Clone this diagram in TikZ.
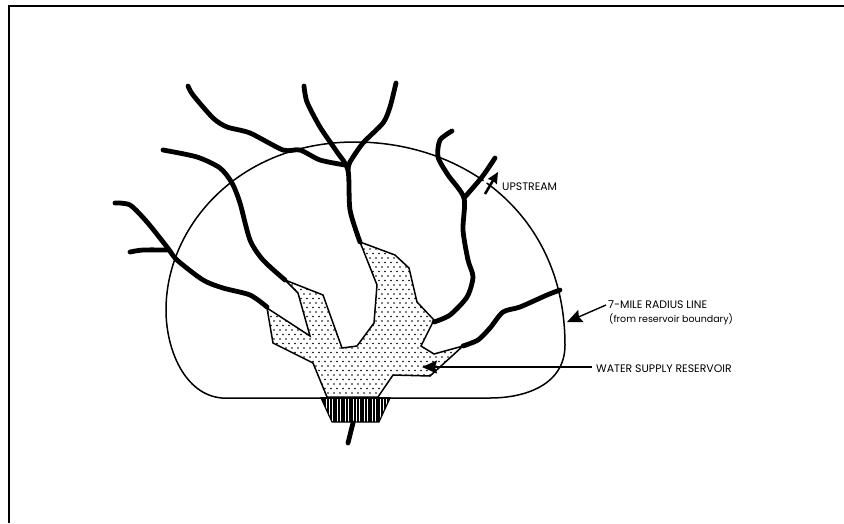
\documentclass[tikz,border=0pt]{standalone}
\usepackage{fontspec}
\setmainfont{Poppins}
\usetikzlibrary{arrows.meta}
\tikzset{
  stream/.style={line width=4.8pt,line cap=round,line join=round},
  radiusline/.style={line width=1.5pt},
  lakeline/.style={line width=1.5pt,line join=miter},
  callout/.style={line width=1.4pt,-{Stealth[length=15pt,width=13pt,inset=2pt]}},
  lbl/.style={font=\fontsize{10.9}{12}\selectfont,anchor=west,inner sep=2pt},
  sublbl/.style={font=\fontsize{9.5}{11}\selectfont,anchor=west,inner sep=2pt}
}
\newcommand{\lakeoutline}{(285,280) -- (323,295) -- (342,348) -- (357,346) -- (374,323) -- (377,285) -- (360,242) -- (395,255) -- (409,268) -- (417,302) -- (434,320) -- (421,346) -- (434,354) -- (463,346) -- (430,376) -- (393,375) -- (378,397) -- (327,397) -- (313,363) -- (273,343) -- (267,308) -- (310,336) -- (298,293) -- cycle}
\newcommand{\damoutline}{(321,398) -- (390,398) -- (379,422) -- (332,422) -- cycle}
\begin{document}
\begin{tikzpicture}[x=1pt,y=-1pt]
  \useasboundingbox (0,0) rectangle (844,523);
  \fill[white] (0,0) rectangle (844,523);
  % page frame
  \draw[line width=2.2pt] (9,523) -- (9,6) -- (844,6);
  % radius line
  \draw[radiusline] (222,398) .. controls (185,395) and (166,350) .. (166,310) .. controls (166,225) and (240,142) .. (355,142) .. controls (465,142) and (565,215) .. (565,345) .. controls (565,385) and (525,398) .. (490,398) -- cycle;
  % reservoir
  \begin{scope}
    \clip \lakeoutline;
    \fill[white] (260,240) rectangle (470,400);
    \foreach \row in {0,...,36}
      \foreach \col in {0,...,35}
        \fill ({262+6*\col+3*mod(\row,2)},{240+4.5*\row}) circle (.8pt);
  \end{scope}
  \draw[lakeline] \lakeoutline;
  % dam
  \begin{scope}
    \clip \damoutline;
    \fill[white] (320,398) rectangle (391,423);
    \foreach \x in {320,322.7,...,392}
      \draw[line width=2pt] (\x,398) -- (\x,423);
  \end{scope}
  \draw[line width=1.2pt] \damoutline;
  \draw[line width=2.6pt] (321,398) -- (390,398);
  % streams
  \draw[stream] plot[smooth,tension=.45] coordinates {(115,203) (130,205) (147,222) (167,247) (177,260) (203,280) (223,288) (250,295) (267,307)};
  \draw[stream] plot[smooth,tension=.45] coordinates {(130,252) (143,250) (168,250)};
  \draw[stream] plot[smooth,tension=.45] coordinates {(163,150) (197,157) (220,168) (232,183) (240,203) (250,240) (263,260) (285,280)};
  \draw[stream] plot[smooth,tension=.45] coordinates {(188,86) (193,95) (213,118) (227,127) (250,133) (283,150) (300,150) (320,160) (345,165)};
  \draw[stream] plot[smooth,tension=.45] coordinates {(304,86) (307,102) (320,127) (337,152) (348,170) (350,210) (360,242)};
  \draw[stream] plot[smooth,tension=.45] coordinates {(396,83) (390,107) (383,123) (363,143) (350,162) (348,170)};
  \draw[stream] plot[smooth,tension=.45] coordinates {(452,131) (440,140) (438,157) (448,175) (464,198) (463,230) (468,260) (473,277) (467,297) (450,315) (434,322)};
  \draw[stream] plot[smooth,tension=.45] coordinates {(495,158) (482,177) (464,198)};
  \draw[stream] plot[smooth,tension=.45] coordinates {(560,290) (547,295) (520,307) (503,312) (490,328) (478,340) (463,346)};
  \draw[stream] (353,423) -- (348,443);
  % labels
  \node[lbl] (lblupstream) at (500,187) {UPSTREAM};
  \node[lbl] (lblradius) at (606,305) {7-MILE RADIUS LINE};
  \node[sublbl] (lblfrom) at (607,319) {(from reservoir boundary)};
  \node[lbl] (lblwater) at (594,369) {WATER SUPPLY RESERVOIR};
  % callouts
  \coordinate (upfoot) at (485,194);
  \coordinate (uptip) at (498,172);
  \coordinate (radiustip) at (567,322);
  \coordinate (lakefoot) at (592,367);
  \coordinate (laketip) at (422,367);
  \fill[white] (485,182) circle (2pt);
  \draw[line width=2.6pt,-{Stealth[length=11pt,width=10pt,inset=1pt]}] (upfoot) -- (uptip);
  \draw[callout] (lblradius.west) -- (radiustip);
  \draw[callout] (lakefoot) -- (laketip);
\end{tikzpicture}
\end{document}
